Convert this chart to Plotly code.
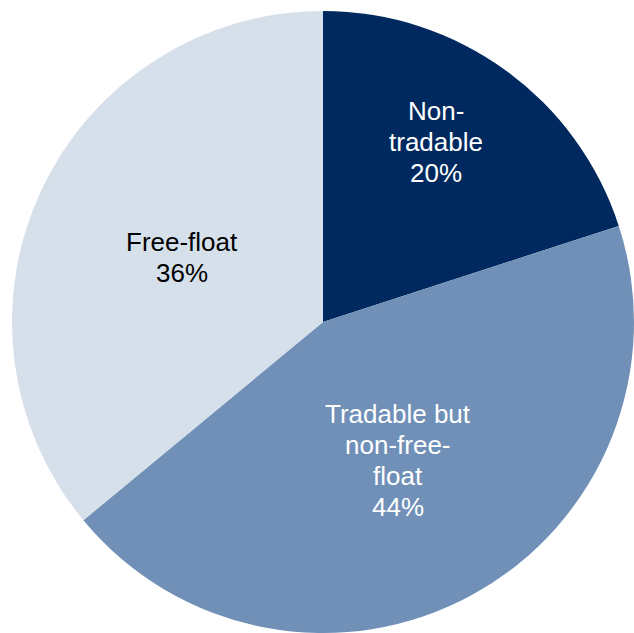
import plotly.graph_objects as go

W, H = 634, 633

categories = ["Non-tradable", "Tradable but non-free-float", "Free-float"]
shares = [20, 44, 36]
colors = ["#002A5F", "#7090B7", "#D6E0EB"]

# label lines for each slice
label_lines = [["Non-", "tradable", "20%"],
               ["Tradable but", "non-free-", "float", "44%"],
               ["Free-float", "36%"]]
label_colors = ["white", "white", "black"]
# pixel anchor (center x, first line center y)
label_pos = [(436, 111), (398, 414), (182, 242)]
line_step = 31

# pie: center (323, 322), radius 311 pixels
cx0, cy0, R = 323, 322, 311

fig = go.Figure(go.Pie(
    labels=categories,
    values=shares,
    sort=False,
    direction="clockwise",
    rotation=0,
    marker=dict(colors=colors, line=dict(width=0)),
    textinfo="none",
    hoverinfo="label+percent",
    showlegend=False,
    domain=dict(x=[(cx0 - R) / W, min(1, (cx0 + R) / W)],
                y=[max(0, 1 - (cy0 + R) / H), 1 - (cy0 - R) / H]),
))

annotations = []
for lines, col, (cx, cy) in zip(label_lines, label_colors, label_pos):
    for i, line in enumerate(lines):
        y = cy + i * line_step
        annotations.append(dict(
            text=line, x=cx / W, y=1 - y / H, xref="paper", yref="paper",
            xanchor="center", yanchor="middle", showarrow=False,
            font=dict(family="Liberation Sans, Arial, sans-serif", size=26, color=col),
        ))

fig.update_layout(
    width=W, height=H,
    margin=dict(l=0, r=0, t=0, b=0),
    paper_bgcolor="white", plot_bgcolor="white",
    annotations=annotations,
)

fig.write_html(
    "out.html",
    config={"displayModeBar": False},
    post_script="document.body.style.margin='0';document.body.style.overflow='hidden';",
)
